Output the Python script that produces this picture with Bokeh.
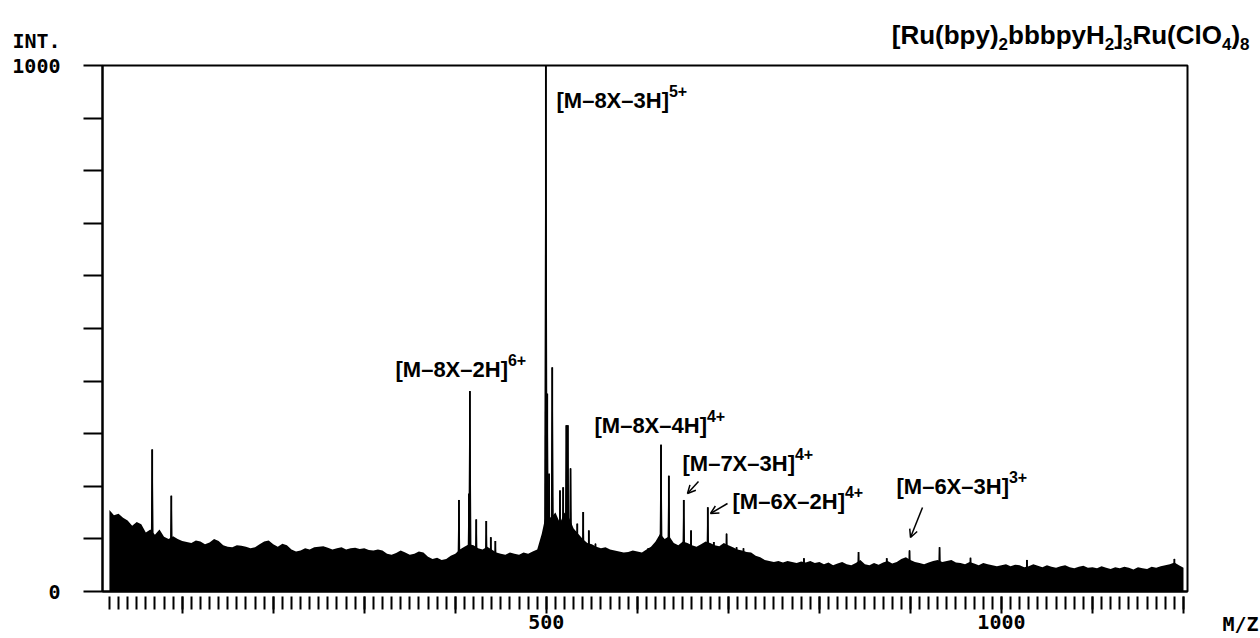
from bokeh.plotting import figure
from bokeh.layouts import column, row
from bokeh.models import Range1d, FixedTicker, Label, Arrow, OpenHead
from bokeh.embed import file_html
from bokeh.resources import INLINE

# ---------------- data ----------------
base_start_mz = 20
base_step_mz = 5
base_intensity = [
    155, 145, 148, 140, 135, 125, 132, 128, 112, 118, 108, 118, 104, 100, 105, 100, 96, 94, 92, 97,   # 20-115
    95, 90, 93, 100, 96, 88, 85, 84, 88, 87, 85, 82, 84, 90, 95, 97, 90, 85, 91, 88,                 # 120-215
    80, 76, 78, 82, 80, 84, 85, 86, 83, 80, 82, 84, 80, 82, 83, 81, 82, 79, 78, 80,                  # 220-315
    78, 72, 70, 73, 78, 74, 70, 72, 76, 74, 66, 62, 64, 60, 62, 68, 72, 80, 85, 90,                  # 320-415
    88, 82, 80, 85, 80, 74, 72, 70, 74, 72, 70, 74, 72, 76, 80, 110, 150, 140, 150, 130,             # 420-515
    150, 140, 120, 110, 100, 92, 90, 85, 82, 84, 80, 78, 76, 74, 75, 78, 76, 74, 80, 85,             # 520-615
    95, 110, 100, 105, 92, 88, 95, 92, 88, 85, 90, 95, 92, 88, 86, 92, 88, 84, 80, 78,               # 620-715
    75, 74, 68, 65, 60, 58, 56, 58, 55, 58, 56, 54, 57, 55, 58, 54, 56, 52, 55, 50,                  # 720-815
    53, 56, 52, 50, 54, 60, 52, 50, 54, 51, 55, 58, 53, 56, 62, 65, 60, 56, 54, 52,                  # 820-915
    55, 58, 60, 56, 58, 60, 55, 54, 52, 56, 53, 50, 54, 52, 50, 48, 50, 52, 48, 51,                  # 920-1015
    50, 46, 48, 52, 49, 46, 50, 47, 45, 48, 50, 46, 44, 47, 49, 45, 46, 44, 48, 45,                  # 1020-1115
    43, 46, 44, 47, 45, 42, 46, 44, 43, 47, 45, 48, 50, 52, 55, 50, 45,                              # 1120-1200
]
base_mz = [base_start_mz + base_step_mz * i for i in range(len(base_intensity))]

peak_mz = [67, 88,
           404, 415, 416, 423, 434, 439, 444,
           499.5, 501, 503, 506.5, 515, 518.5, 522, 523.6, 526.6, 534, 540.5, 546.7, 554,
           612, 626, 634.6, 651, 659, 677.4, 684, 698, 709, 716.6,
           783, 843, 874, 899, 932, 966, 1028, 1190]
peak_intensity = [270, 182,
                  174, 186, 381, 137, 134, 103, 96,
                  1000, 376, 224, 426, 192, 198, 316, 316, 234, 129, 151, 116, 91,
                  82, 279, 220, 174, 116, 160, 94, 110, 84, 82,
                  63, 75, 63, 78, 84, 64, 60, 62]
peak_base_width = 3.0   # m/z width of a peak at its foot

x_major_ticks = list(range(100, 1201, 100))
x_minor_ticks = list(range(20, 1201, 10))
x_tick_text = {500: "500", 1000: "1000"}
y_ticks = list(range(0, 1001, 100))
y_tick_text = {0: "0", 1000: "1000"}

title_parts = [("[Ru(bpy)", "main"), ("2", "sub"), ("bbbpyH", "main"), ("2", "sub"),
               ("]", "main"), ("3", "sub"), ("Ru(ClO", "main"), ("4", "sub"),
               (")", "main"), ("8", "sub")]
ion_names = ["[M\u20138X\u20133H]", "[M\u20138X\u20132H]", "[M\u20138X\u20134H]",
             "[M\u20137X\u20133H]", "[M\u20136X\u20132H]", "[M\u20136X\u20133H]"]
ion_charges = ["5+", "6+", "4+", "4+", "4+", "3+"]

# ---------------- layout (page pixel positions) ----------------
PAGE_W, PAGE_H = 1260, 638
HEAD_H = 53
FRAME_L, FRAME_T, FRAME_W, FRAME_H = 102, 65, 1085, 526
MAIN_W = FRAME_L + FRAME_W + 6
X0, X1 = 12.4, 1204.4
Y0, Y1 = 0, 1000
BASE_SHIFT = 0.36   # label anchor sits this many em above the wanted baseline

def px2x(px):
    return X0 + (px - FRAME_L) * (X1 - X0) / FRAME_W

def py2y(py):
    return Y0 + (FRAME_T + FRAME_H - py) * (Y1 - Y0) / FRAME_H

ion_label_pos = [(556, 108), (395, 377), (594, 433), (682, 471), (732, 509), (896, 494)]
arrows_px = [((698, 481), (687, 493)), ((727, 503), (710, 513)), ((922, 507), (910, 537))]

SANS = "Liberation Sans"
MONO = "DejaVu Sans Mono"
ADV = {'[': 333, ']': 333, '(': 333, ')': 333, '+': 584, '-': 333, '\u2013': 556, '.': 278,
       'C': 722, 'H': 722, 'M': 833, 'O': 778, 'R': 722, 'X': 667,
       'b': 611, 'l': 278, 'p': 611, 'u': 611, 'y': 556}

def text_width(s, size):
    return sum(ADV.get(c, 556) for c in s) * size / 1000.0

def put_rich(fig, fx, fy, parts, x_px, base_py, main_size, small_size, sup_rise, sub_drop,
             align_right=False):
    sizes = [main_size if k == "main" else small_size for _, k in parts]
    total = sum(text_width(t, s) for (t, _), s in zip(parts, sizes))
    x = x_px - total if align_right else x_px
    for (t, k), s in zip(parts, sizes):
        by = base_py - sup_rise if k == "sup" else (base_py + sub_drop if k == "sub" else base_py)
        fig.add_layout(Label(x=fx(x), y=fy(by - BASE_SHIFT * s), text=t, text_font=SANS,
                             text_font_style="bold", text_font_size=f"{s}px",
                             text_align="left", text_baseline="alphabetic", text_color="black"))
        x += text_width(t, s)

def blank_fig(w, h, xr, yr, x_axis=None):
    f = figure(width=w, height=h, x_range=xr, y_range=yr, x_axis_type=x_axis, y_axis_type=None,
               min_border=0, min_border_left=0, min_border_right=0, min_border_top=0,
               min_border_bottom=0, output_backend="svg", toolbar_location=None, title=None,
               background_fill_color="white", border_fill_color="white")
    f.outline_line_color = None
    return f

# ---------------- header strip: title and "INT." ----------------
header = blank_fig(PAGE_W, HEAD_H, Range1d(0, PAGE_W), Range1d(HEAD_H, 0))
put_rich(header, lambda v: v, lambda v: v, title_parts, 1249, 44, 26, 17, 0, 6, align_right=True)
header.add_layout(Label(x=12, y=48 - BASE_SHIFT * 20, text="INT.", text_font=MONO,
                        text_font_style="bold", text_font_size="20px", text_align="left",
                        text_baseline="alphabetic", text_color="black"))

# ---------------- main spectrum ----------------
p = figure(frame_width=FRAME_W, frame_height=FRAME_H,
           min_border_left=FRAME_L, min_border_right=MAIN_W - FRAME_L - FRAME_W,
           min_border_top=FRAME_T - HEAD_H, min_border_bottom=PAGE_H - FRAME_T - FRAME_H,
           x_range=Range1d(X0, X1), y_range=Range1d(Y0, Y1),
           output_backend="svg", toolbar_location=None, title=None,
           background_fill_color="white", border_fill_color="white")
p.xgrid.visible = False
p.ygrid.visible = False
p.outline_line_color = "black"
p.outline_line_width = 2
p.outline_line_alpha = 1

p.varea(x=base_mz, y1=[0] * len(base_mz), y2=base_intensity, fill_color="black", fill_alpha=1)
half = peak_base_width / 2
p.patches(xs=[[m - half, m, m + half] for m in peak_mz],
          ys=[[0, h, 0] for h in peak_intensity],
          fill_color="black", line_color="black", line_width=1)
p.segment(x0=peak_mz, y0=[0] * len(peak_mz), x1=peak_mz, y1=peak_intensity,
          line_color="black", line_width=1.8)

ax = p.xaxis[0]
ax.ticker = FixedTicker(ticks=x_major_ticks, minor_ticks=x_minor_ticks)
ax.major_label_overrides = {t: x_tick_text.get(t, "") for t in x_major_ticks}
ax.axis_line_color = "black"
ax.axis_line_width = 2
ax.major_tick_line_color = "black"
ax.major_tick_line_width = 2
ax.major_tick_in = -5
ax.major_tick_out = 22
ax.minor_tick_line_color = "black"
ax.minor_tick_line_width = 2
ax.minor_tick_in = -5
ax.minor_tick_out = 18
ax.major_label_standoff = 1
ax.major_label_text_font = MONO
ax.major_label_text_font_style = "bold"
ax.major_label_text_font_size = "20px"
ax.major_label_text_color = "black"

ay = p.yaxis[0]
ay.ticker = FixedTicker(ticks=y_ticks, minor_ticks=[])
ay.major_label_overrides = {t: y_tick_text.get(t, "") for t in y_ticks}
ay.axis_line_color = "black"
ay.axis_line_width = 2
ay.major_tick_line_color = "black"
ay.major_tick_line_width = 2
ay.major_tick_in = 0
ay.major_tick_out = 19
ay.minor_tick_line_color = None
ay.major_label_standoff = 23
ay.major_label_text_font = MONO
ay.major_label_text_font_style = "bold"
ay.major_label_text_font_size = "20px"
ay.major_label_text_color = "black"

for name, charge, (lx, ly) in zip(ion_names, ion_charges, ion_label_pos):
    put_rich(p, px2x, py2y, [(name, "main"), (charge, "sup")], lx, ly, 22, 16, 12, 0)

for (sx, sy), (ex, ey) in arrows_px:
    p.add_layout(Arrow(x_start=px2x(sx), y_start=py2y(sy), x_end=px2x(ex), y_end=py2y(ey),
                       line_color="black", line_width=1.5,
                       end=OpenHead(size=8, line_width=1.5, line_color="black")))

# ---------------- right strip: the "M/Z" axis caption at tick-label level ----------------
MZ_POS = 1240
rstrip = blank_fig(PAGE_W - MAIN_W, PAGE_H - HEAD_H, Range1d(MAIN_W, PAGE_W), Range1d(0, 1),
                   x_axis="linear")
rstrip.xgrid.visible = False
rx = rstrip.xaxis[0]
rx.ticker = FixedTicker(ticks=[MZ_POS], minor_ticks=[])
rx.major_label_overrides = {MZ_POS: "M/Z"}
rx.axis_line_color = None
rx.major_tick_line_color = None
rx.minor_tick_line_color = None
rx.major_tick_in = 0
rx.major_tick_out = 0
rx.major_label_standoff = 23
rx.major_label_text_font = MONO
rx.major_label_text_font_style = "bold"
rx.major_label_text_font_size = "20px"
rx.major_label_text_color = "black"

layout = column(header, row(p, rstrip, spacing=0), spacing=0)
open("out.html", "w").write(file_html(layout, INLINE))
